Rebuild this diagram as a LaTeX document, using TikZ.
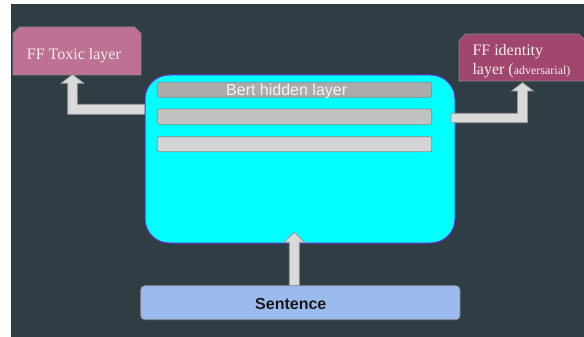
\documentclass[tikz,border=0pt]{standalone}
\usepackage{fontspec}
\setmainfont{Liberation Serif}
\setsansfont{Liberation Sans}
\usetikzlibrary{calc}

\definecolor{slate}{RGB}{47,61,69}
\definecolor{toxicpink}{RGB}{190,113,146}
\definecolor{identitymauve}{RGB}{161,70,108}
\definecolor{boxedge}{RGB}{135,135,135}
\definecolor{paletext}{RGB}{246,238,242}
\definecolor{bertcyan}{RGB}{0,255,255}
\definecolor{bertedge}{RGB}{110,40,205}
\definecolor{barA}{RGB}{171,171,171}
\definecolor{barB}{RGB}{194,194,194}
\definecolor{barC}{RGB}{212,212,212}
\definecolor{baredge}{RGB}{140,140,140}
\definecolor{bertwhite}{RGB}{242,242,242}
\definecolor{sentblue}{RGB}{155,187,238}
\definecolor{arrowfill}{RGB}{218,218,218}
\definecolor{arrowedge}{RGB}{150,150,150}

% outline of a box with its two upper corners snipped off
\newcommand{\snipbox}[3]{%
  \draw[draw=boxedge, line width=0.7pt, fill=#2]
    (#1.south west) -- ($(#1.north west)+(0,#3)$) -- ($(#1.north west)+(#3,0)$)
    -- ($(#1.north east)+(-#3,0)$) -- ($(#1.north east)+(0,#3)$) -- (#1.south east) -- cycle;}

\begin{document}
\begin{tikzpicture}[x=1pt,y=-1pt,
  ffbox/.style={rectangle, inner sep=0pt, outer sep=0pt},
  fftext/.style={inner sep=0pt, text=paletext, font=\fontsize{16}{19}\selectfont},
  barbox/.style={draw=baredge, line width=0.7pt, rounded corners=2pt,
    minimum width=274.4pt, minimum height=15pt, inner sep=0pt},
  blockarrow/.style={fill=arrowfill, draw=arrowedge, line width=0.7pt, line join=miter},
]
\useasboundingbox (0,0) rectangle (584,337);
\clip (0,0) rectangle (584,337);

% slide background
\fill[white] (0,0) rectangle (584,337);
\fill[slate] (11,4) rectangle (584,337);

% output heads
\node[ffbox, minimum width=128pt, minimum height=48pt] (toxic) at (77,51) {};
\snipbox{toxic}{toxicpink}{6.5}
\node[fftext, anchor=base west] (toxictext) at (26.7,59.3) {FF Toxic layer};

\node[ffbox, minimum width=126pt, minimum height=47pt] (identity) at (522,57.5) {};
\snipbox{identity}{identitymauve}{6.5}
\node[fftext, anchor=base west] (idtextA) at (472.3,56) {FF identity};
\node[fftext, anchor=base west] (idtextB) at (472.3,74.5) {layer (\fontsize{12}{14}\selectfont adversarial)};

% arrow into the toxic head (its root is hidden under the encoder box)
\draw[blockarrow] (150,104.3) -- (77.3,104.3) -- (77.3,83.3) -- (84,83.3) -- (72.5,74.5)
  -- (61,83.3) -- (67.7,83.3) -- (67.7,114.3) -- (150,114.3) -- cycle;

% encoder box with its hidden-layer bars
\node[draw=bertedge, line width=1pt, fill=bertcyan, rounded corners=24pt,
  minimum width=310pt, minimum height=168pt, inner sep=0pt] (bert) at (300,159) {};
\node[barbox, fill=barA] (bar1) at (294.5,89.8) {};
\node[barbox, fill=barB, minimum height=15.3pt] (bar2) at (294.5,116.7) {};
\node[barbox, fill=barC] (bar3) at (294.5,144.2) {};
\node[inner sep=0pt, anchor=base west, text=bertwhite,
  font=\sffamily\fontsize{16}{19}\selectfont] (berttext) at (226,95.3) {Bert hidden layer};

% arrow into the adversarial head
\draw[blockarrow] (451,113.3) -- (517.5,113.3) -- (517.5,91) -- (511.5,91) -- (522.5,82.5)
  -- (533.5,91) -- (527.5,91) -- (527.5,122.7) -- (451,122.7) -- cycle;

% arrow from the sentence into the encoder
\draw[blockarrow] (289.3,286) -- (289.3,242.3) -- (284,242.3) -- (294.3,232.3)
  -- (304.6,242.3) -- (299.3,242.3) -- (299.3,286) -- cycle;

% input
\node[draw=boxedge, line width=0.7pt, fill=sentblue, rounded corners=4pt,
  minimum width=319.3pt, minimum height=34pt, inner sep=0pt] (sentence) at (300.35,302.7) {};
\node[inner sep=0pt, anchor=base west, text=black!90,
  font=\sffamily\bfseries\fontsize{16}{19}\selectfont] (senttext) at (255,309) {Sentence};
\end{tikzpicture}
\end{document}
